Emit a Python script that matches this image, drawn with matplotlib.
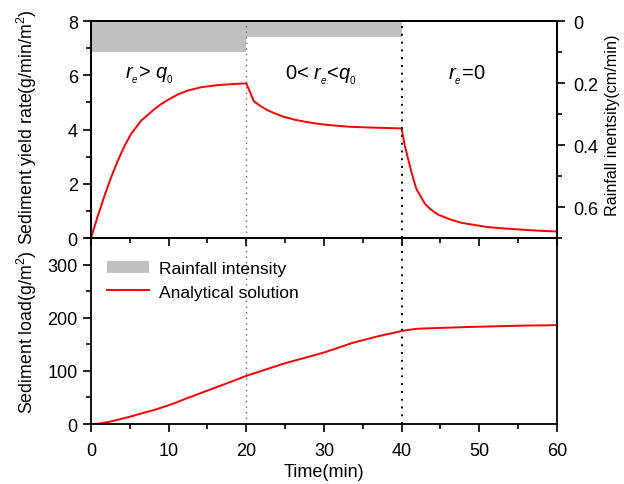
import matplotlib
matplotlib.use("Agg")
import matplotlib.pyplot as plt
from matplotlib.patches import Patch
from matplotlib.lines import Line2D
from matplotlib.ticker import MultipleLocator, FuncFormatter

plt.rcParams["font.family"] = ["Liberation Sans", "DejaVu Sans"]
plt.rcParams["mathtext.fontset"] = "custom"
plt.rcParams["mathtext.rm"] = "Liberation Sans"
plt.rcParams["mathtext.it"] = "Liberation Sans:italic"

# sediment yield rate (g/min/m^2)
yield_t = [0, 0.9, 1.76, 2.6, 3.47, 4.33, 5.19, 6.48, 8.2, 8.9, 9.95, 11.24,
           12.5, 14.2, 16.4, 18.5, 20,
           20.98, 21.75, 22.6, 23.7, 24.7, 26.25, 27.7, 29.5, 31.2, 33.3,
           36.3, 40,
           40.4, 41.1, 41.5, 41.9, 42.5, 43.0, 43.8, 44.7, 46.2, 47.7, 49.4,
           51.1, 53.3, 55.4, 57.6, 60]
yield_v = [0, 0.83, 1.57, 2.24, 2.86, 3.40, 3.85, 4.33, 4.76, 4.91, 5.10, 5.30,
           5.44, 5.56, 5.64, 5.68, 5.70,
           5.04, 4.88, 4.73, 4.59, 4.48, 4.36, 4.28, 4.20, 4.15, 4.10,
           4.07, 4.04,
           3.41, 2.61, 2.18, 1.81, 1.51, 1.26, 1.04, 0.86, 0.69, 0.56, 0.48,
           0.40, 0.35, 0.31, 0.27, 0.24]

# cumulative sediment load (g/m^2)
load_t = [0, 0.94, 2.23, 3.51, 5.02, 6.52, 7.81, 9.31, 10.8, 12.3, 13.8,
          15.5, 17.2, 18.7, 20, 22.4, 24.9, 27.5, 30, 33.8, 36.8, 40,
          41.05, 42.3, 48.7, 55.2, 60]
load_v = [0, 0.6, 3.75, 8.1, 13.8, 20, 25, 31.9, 39.4, 48.2, 56.3,
          65.7, 75, 83.2, 90.7, 102, 114, 124.4, 134.5, 153.2, 164.5, 175,
          177.6, 179.5, 182.6, 185, 186]

# rainfall intensity per stage (cm/min)
rain_start = [0, 20, 40]
rain_width = [20, 20, 20]
rain_value = [0.1, 0.05, 0.0]

stage_bounds = [20, 40]
stage_labels = [r"$r_{_e}$> $q_{_0}$", r"0< $r_{_e}$<$q_{_0}$", r"$r_{_e}$=0"]
stage_label_x = [7.5, 29.6, 48.4]

red = "#ff0000"
gray = "#c0c0c0"
fs = 13

fig = plt.figure(figsize=(6.24, 4.85), dpi=100)
ax1 = fig.add_axes([0.1458, 0.5072, 0.7468, 0.4474])
ax3 = fig.add_axes([0.1458, 0.1237, 0.7468, 0.3835])
ax2 = ax1.twinx()

ax2.bar(rain_start, rain_value, width=rain_width, align="edge", color=gray,
        linewidth=0)
ax2.set_ylim(0.7, 0)
ax2.yaxis.set_major_locator(MultipleLocator(0.2))
ax2.yaxis.set_minor_locator(MultipleLocator(0.1))
ax2.yaxis.set_major_formatter(FuncFormatter(lambda v, p: "%g" % round(v, 2)))
ax2.set_ylabel("Rainfall inentsity(cm/min)", fontsize=11.6)
ax2.yaxis.set_label_coords(1.103, 0.525)

ax1.set_zorder(ax2.get_zorder() + 1)
ax1.patch.set_visible(False)
ax1.plot(yield_t, yield_v, color=red, lw=1.4)
ax1.set_ylim(0, 8)
ax1.yaxis.set_major_locator(MultipleLocator(2))
ax1.yaxis.set_minor_locator(MultipleLocator(1))
ax1.set_ylabel("Sediment yield rate(g/min/m$^2$)", fontsize=12.8)
ax1.yaxis.set_label_coords(-0.112, 0.515)
ax1.tick_params(axis="x", labelbottom=False)

for x, lab in zip(stage_label_x, stage_labels):
    ax1.text(x, 6.05, lab, fontsize=14.5, ha="center", va="center")

ax3.plot(load_t, load_v, color=red, lw=1.4)
ax3.set_ylim(0, 350)
ax3.yaxis.set_major_locator(MultipleLocator(100))
ax3.yaxis.set_minor_locator(MultipleLocator(50))
ax3.set_ylabel("Sediment load(g/m$^2$)", fontsize=12.8)
ax3.yaxis.set_label_coords(-0.112, 0.5)
ax3.set_xlabel("Time(min)", fontsize=fs, labelpad=3)

for ax in (ax1, ax3):
    ax.set_xlim(0, 60)
    ax.xaxis.set_major_locator(MultipleLocator(10))
    ax.xaxis.set_minor_locator(MultipleLocator(5))
    ax.axvline(stage_bounds[0], color="0.4", ls=(0, (1, 3)), lw=1.0)
    ax.axvline(stage_bounds[1], color="black", ls=(0, (1, 3)), lw=1.4)

for ax in (ax1, ax2, ax3):
    for s in ax.spines.values():
        s.set_linewidth(1.3)
    ax.tick_params(which="both", direction="out", width=1.2, labelsize=fs)
    ax.tick_params(which="major", length=6)
    ax.tick_params(which="minor", length=3.5)

ax1.tick_params(axis="y", which="both", right=False)
ax2.tick_params(axis="y", pad=6)
ax3.tick_params(which="both", top=False, right=False)
ax3.tick_params(axis="x", pad=7)

handles = [Patch(facecolor=gray, edgecolor="none"),
           Line2D([0], [0], color=red, lw=1.4)]
ax3.legend(handles, ["Rainfall intensity", "Analytical solution"],
           loc="upper left", frameon=False, fontsize=12.6,
           handlelength=2.4, handletextpad=0.6, labelspacing=0.45,
           bbox_to_anchor=(0.0, 0.96))

fig.savefig("out.png", dpi=100)
